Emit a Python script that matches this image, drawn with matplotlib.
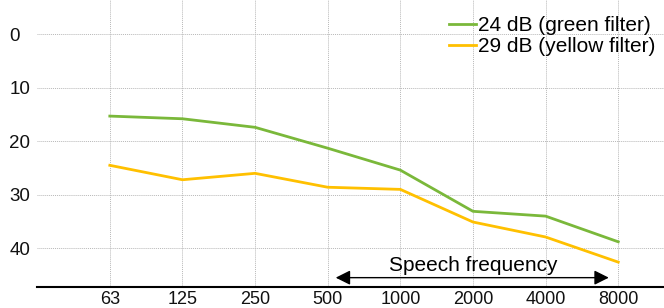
import matplotlib
matplotlib.use("Agg")
import matplotlib.pyplot as plt

plt.rcParams['font.family'] = ['Liberation Sans', 'DejaVu Sans']

freqs = ["63", "125", "250", "500", "1000", "2000", "4000", "8000"]
green = [15.3, 15.8, 17.4, 21.3, 25.4, 33.1, 34.0, 38.8]
yellow = [24.5, 27.2, 26.0, 28.6, 29.0, 35.1, 37.9, 42.6]
yticks = [0, 10, 20, 30, 40]

x = list(range(len(freqs)))

fig = plt.figure(figsize=(6.64, 3.08), dpi=100)
ax = fig.add_axes([0.056, 0.069, 0.944, 0.931])

ax.plot(x, green, color="#7ab83a", lw=2, label="24 dB (green filter)")
ax.plot(x, yellow, color="#ffc000", lw=2, label="29 dB (yellow filter)")

ax.set_xlim(-1.0, 7.63)
ax.set_ylim(47.2, -6.4)
ax.set_xticks(x)
ax.set_xticklabels(freqs)
ax.set_yticks(yticks)
ax.tick_params(length=0, colors="#111111")
ax.tick_params(axis="x", pad=3, labelsize=13)
ax.tick_params(axis="y", pad=20, labelsize=13.5)
for lab in ax.get_yticklabels():
    lab.set_ha("left")

ax.grid(True, color="#b8b8b8", linestyle=(0, (1, 1)), lw=0.7)
for s in ["top", "right", "left"]:
    ax.spines[s].set_visible(False)
ax.spines["bottom"].set_color("black")
ax.spines["bottom"].set_linewidth(1.5)

# speech frequency range
ax.annotate("", xy=(3.11, 45.5), xytext=(6.87, 45.5),
            arrowprops=dict(arrowstyle="<|-|>", color="black", lw=1,
                            mutation_scale=22, shrinkA=0, shrinkB=0))
ax.text(5.0, 43.3, "Speech frequency", ha="center", va="center", fontsize=15)

leg = ax.legend(loc="upper right", bbox_to_anchor=(0.997, 0.965),
                frameon=False, fontsize=15,
                handlelength=1.3, handletextpad=0.1, borderaxespad=0.0,
                labelspacing=0.1, borderpad=0.3)

fig.savefig("out.png", dpi=100)
